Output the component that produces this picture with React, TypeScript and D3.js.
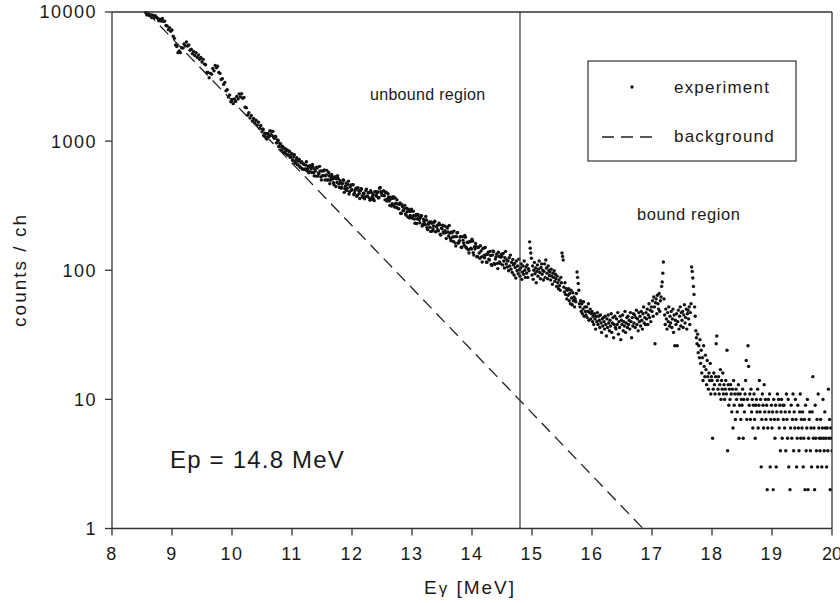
import React from "react";
import * as d3 from "d3";

// ---- data ----
// channel calibration: energy of first channel and channel width (MeV)
const expAStart = 8.56;
const expAStep = 0.02;
const expACounts = [
  9900, 9500, 9800, 9400, 9550, 9050, 9450, 9000, 9350, 9100,
  8950, 8550, 8800, 8500, 8900, 8450, 8500, 7850, 7800, 7300,
  7550, 7100, 7250, 6500, 6250, 5550, 5400, 4850, 5000, 4850,
  5300, 5250, 5650, 5450, 5850, 5450, 5550, 5050, 5150, 4750,
  4950, 4600, 4850, 4450, 4650, 4300, 4450, 4100, 4300, 3950,
  3900, 3400, 3400, 3100, 3350, 3300, 3650, 3500, 3850, 3700,
  3800, 3400, 3350, 3000, 3050, 2750, 2850, 2450, 2500, 2200,
  2280, 2020, 2100, 1950, 2120, 2030, 2220, 2120, 2320, 2200,
  2330, 2150, 2180, 1830, 1810, 1590, 1660, 1510, 1580, 1430,
  1500, 1380, 1450, 1330, 1400, 1260, 1320, 1180, 1230, 1090,
  1140, 1040, 1140, 1090, 1200, 1110, 1190, 1060, 1090, 970,
  1020, 910, 960, 850, 910, 815, 875, 800, 855, 780,
  830, 750, 800, 705, 785, 680, 745, 655, 720, 625,
  694, 605, 658, 608, 692, 611, 569, 645, 609, 659,
  569, 606, 536, 620, 567, 638, 529, 587, 542, 599,
  538, 594, 501, 540, 498, 551, 510, 459, 530, 510,
  540, 466, 494, 432, 470, 498, 428, 473, 432, 490,
  405, 457, 421, 459, 395, 426, 374, 435, 393, 412,
  426, 368, 394, 372, 425, 372, 398, 349, 401, 372,
  357, 405, 381, 398, 363, 432, 405, 380, 411, 378,
  399, 344, 391, 344, 354, 314, 360, 322, 363, 306,
  326, 299, 332, 275, 312, 290, 318, 268, 284, 297,
  254, 286, 260, 286, 249, 263, 230, 270, 247, 256,
  265, 226, 239, 225, 245, 207, 232, 215, 237, 201,
  220, 240, 199, 222, 202, 225, 187, 210, 198, 220,
  195, 216, 198, 222, 177, 198, 181, 201, 163, 182,
  196, 165, 181, 151, 182, 163, 186, 151, 165, 144,
  167, 148, 174, 137, 152, 161, 127, 150, 136, 155,
  127, 147, 130, 150, 116, 133, 122, 140, 111, 131,
  139, 111, 127, 113, 138, 116, 126,
];

// odd channels of the same spectrum between 10.51 and 14.49 MeV
const expAOddStart = 10.51;
const expAOddStep = 0.02;
const expAOddCounts = [
  1240, 1110, 1150, 1050, 1140, 1090, 1200, 1120, 1190, 1080,
  1050, 1080, 970, 1010, 905, 950, 860, 900, 825, 870,
  845, 780, 835, 750, 790, 715, 755, 675, 715, 655,
  700, 635, 680, 612, 668, 603, 652, 590, 640, 580,
  624, 571, 631, 538, 586, 627, 536, 559, 588, 500,
  539, 588, 500, 548, 500, 572, 468, 518, 532, 476,
  515, 445, 478, 514, 438, 474, 441, 500, 401, 449,
  414, 462, 389, 441, 416, 459, 385, 415, 432, 381,
  414, 359, 428, 377, 395, 358, 414, 377, 398, 362,
  413, 355, 386, 346, 406, 374, 406, 366, 438, 394,
  380, 412, 351, 402, 357, 369, 317, 368, 328, 371,
  309, 330, 351, 301, 324, 276, 323, 289, 300, 273,
  303, 259, 286, 266, 297, 253, 266, 231, 270, 249,
  256, 233, 265, 220, 249, 229, 261, 214, 227, 237,
  200, 231, 209, 235, 199, 216, 206, 231, 190, 212,
  223, 194, 202, 176, 212, 184, 194, 169, 195, 167,
  182, 154, 194, 162, 169, 182, 150, 171, 156, 180,
  148, 164, 136, 166, 146, 168, 131, 146, 152, 128,
  151, 124, 141, 116, 148, 125, 132, 115, 138, 120,
  130, 109, 141, 113, 122, 133, 103, 128, 113, 133,
];

const expBStart = 14.5;
const expBStep = 0.01;
const expBCounts = [
  128, 110, 135, 118, 104, 125, 140, 112, 120, 106,
  118, 99, 125, 108, 131, 102, 115, 96, 121, 110,
  92, 113, 105, 87, 118, 99, 108, 94, 122, 101,
  90, 104, 112, 85, 97, 108, 93, 118, 100, 88,
  106, 95, 110, 88, 103, 99, 166, 148, 136, 124,
  92, 108, 85, 100, 115, 94, 104, 80, 98, 110,
  90, 102, 118, 96, 86, 105, 112, 93, 100, 84,
  98, 112, 88, 120, 104, 95, 86, 108, 100, 91,
  97, 84, 102, 90, 78, 95, 88, 99, 82, 93,
  86, 75, 90, 80, 72, 84, 76, 70, 88, 80,
  136, 128, 120, 74, 68, 80, 65, 72, 60, 70,
  64, 72, 58, 66, 55, 70, 61, 54, 67, 58,
  62, 52, 60, 57, 66, 97, 88, 79, 70, 55,
  52, 58, 48, 55, 46, 50, 57, 44, 52, 48,
  45, 52, 43, 48, 55, 41, 47, 50, 42, 46,
  48, 40, 44, 38, 46, 42, 35, 44, 40, 47,
  38, 44, 41, 36, 45, 39, 33, 42, 37, 43,
  40, 35, 44, 38, 31, 42, 36, 45, 39, 34,
  41, 37, 46, 33, 39, 43, 30, 38, 44, 36,
  35, 42, 38, 47, 32, 40, 36, 44, 29, 41,
  38, 45, 34, 40, 37, 48, 33, 39, 43, 36,
  44, 38, 41, 35, 47, 40, 30, 43, 37, 46,
  39, 45, 36, 43, 49, 38, 42, 34, 47, 40,
  44, 37, 48, 41, 35, 46, 52, 39, 43, 38,
  47, 42, 50, 38, 45, 55, 43, 49, 40, 52,
  48, 58, 44, 62, 52, 27, 56, 60, 46, 64,
  55, 50, 66, 48, 58, 62, 75, 81, 95, 116,
  60, 45, 38, 50, 42, 35, 47, 40, 52, 37,
  44, 39, 48, 36, 42, 50, 33, 45, 26, 41,
  38, 46, 26, 40, 49, 35, 44, 52, 37, 47,
  41, 48, 36, 45, 54, 39, 43, 50, 35, 46,
  49, 42, 52, 38, 47, 55, 106, 98, 87, 75,
  65, 52, 44, 34, 30, 27, 32, 23, 26, 21,
  29, 19, 24, 16, 21, 14, 26, 18, 15, 22,
  17, 13, 20, 15, 12, 16, 14, 19, 11, 15,
  14, 5, 12, 16, 13, 11, 15, 27, 31, 14,
  12, 15, 11, 13, 17, 10, 14, 12, 16, 11,
  13, 10, 12, 14, 11, 24, 4, 13, 9, 12,
  10, 13, 11, 8, 12, 6, 14, 9, 11, 7,
  12, 10, 8, 11, 13, 5, 9, 11, 7, 10,
  9, 12, 5, 10, 8, 11, 14, 20, 7, 10,
  26, 18, 9, 11, 7, 12, 8, 10, 6, 9,
  11, 7, 5, 9, 10, 8, 12, 6, 9, 14,
  8, 10, 3, 7, 11, 9, 6, 13, 8, 10,
  7, 9, 2, 6, 10, 8, 11, 3, 7, 9,
  6, 8, 2, 10, 7, 5, 9, 3, 8, 11,
  7, 10, 6, 9, 4, 8, 10, 5, 9, 7,
  9, 6, 8, 4, 11, 7, 5, 10, 3, 8,
  2, 6, 9, 5, 7, 11, 4, 8, 6, 10,
  7, 3, 5, 9, 6, 4, 8, 11, 5, 7,
  6, 8, 3, 5, 7, 2, 9, 4, 6, 10,
  2, 5, 7, 8, 4, 6, 3, 8, 15, 5,
  6, 2, 9, 5, 4, 7, 3, 11, 6, 5,
  4, 7, 5, 3, 6, 10, 5, 4, 8, 6,
  5, 3, 6, 4, 12, 5, 7, 2, 6, 5,
  4,
];

// background fit: straight line on log scale, given by its two end points
const backgroundE = [8.58, 16.85];
const backgroundCounts = [10000, 1];

const xTicks = [8, 9, 10, 11, 12, 13, 14, 15, 16, 17, 18, 19, 20];
const yTicks = [1, 10, 100, 1000, 10000];
const boundaryE = 14.8;

const FONT = "'Liberation Sans', Arial, Helvetica, sans-serif";
const INK = "#1a1a1a";
const AXIS = "#333";

export default function App() {
  const left = 112, right = 832, top = 12, bottom = 528.5;
  const x = d3.scaleLinear().domain([8, 20]).range([left, right]);
  const y = d3.scaleLog().domain([1, 10000]).range([bottom, top]);

  const points: { e: number; c: number }[] = [];
  expACounts.forEach((c, i) => points.push({ e: expAStart + i * expAStep, c }));
  expAOddCounts.forEach((c, i) => points.push({ e: expAOddStart + i * expAOddStep, c }));
  expBCounts.forEach((c, i) => points.push({ e: expBStart + i * expBStep, c }));

  const bgLine = d3
    .line<number>()
    .x((_, i) => x(backgroundE[i]))
    .y((d) => y(d))(backgroundCounts);

  return (
    <svg
      width={840}
      height={603}
      style={{ position: "absolute", left: 0, top: 0, background: "#fff" }}
      fontFamily={FONT}
    >
      <defs>
        <clipPath id="plotClip">
          <rect x={left} y={top - 1} width={right - left} height={bottom - top + 1} />
        </clipPath>
      </defs>
      <rect x={0} y={0} width={840} height={603} fill="#fff" />

      {/* data */}
      <g clipPath="url(#plotClip)">
        {points.map((p, i) => (
          <circle key={i} cx={x(p.e)} cy={y(p.c)} r={1.7} fill="#111" />
        ))}
        <path d={bgLine || ""} fill="none" stroke="#222" strokeWidth={1.3} strokeDasharray="12 7" />
      </g>

      {/* boundary line */}
      <line x1={x(boundaryE)} x2={x(boundaryE)} y1={top} y2={bottom} stroke={AXIS} strokeWidth={1.2} />

      {/* frame */}
      <line x1={left} x2={left} y1={top} y2={bottom} stroke={AXIS} strokeWidth={1.3} />
      <line x1={left} x2={right} y1={bottom} y2={bottom} stroke={AXIS} strokeWidth={1.3} />
      <line x1={left} x2={right} y1={top} y2={top} stroke={AXIS} strokeWidth={1.3} />
      <line x1={right} x2={right} y1={top} y2={bottom} stroke={AXIS} strokeWidth={1.3} />

      {/* y axis */}
      {yTicks.map((t) => (
        <g key={"y" + t}>
          <line x1={left - 7} x2={left} y1={y(t)} y2={y(t)} stroke={AXIS} strokeWidth={1.3} />
          <text
            x={97}
            y={y(t)}
            dy="0.36em"
            textAnchor="end"
            fontSize={18}
            letterSpacing={1.5}
            fill={INK}
          >
            {t}
          </text>
        </g>
      ))}

      {/* x axis */}
      {xTicks.map((t) => (
        <g key={"x" + t}>
          <line x1={x(t)} x2={x(t)} y1={bottom} y2={bottom + 7} stroke={AXIS} strokeWidth={1.3} />
          <text
            x={x(t)}
            y={560}
            textAnchor="middle"
            fontSize={18}
            letterSpacing={t === 20 ? 0 : 1.5}
            fill={INK}
          >
            {t}
          </text>
        </g>
      ))}

      {/* axis titles */}
      <text x={470} y={594} textAnchor="middle" fontSize={19} letterSpacing={2} fill={INK}>
        E<tspan fontSize={17}>γ</tspan> [MeV]
      </text>
      <text
        transform="translate(26,270) rotate(-90)"
        textAnchor="middle"
        fontSize={19}
        letterSpacing={2}
        fill={INK}
      >
        counts / ch
      </text>

      {/* annotations */}
      <text x={370} y={100} fontSize={16} letterSpacing={0.3} fill={INK}>
        unbound region
      </text>
      <text x={637} y={220} fontSize={16.5} letterSpacing={0.6} fill={INK}>
        bound region
      </text>
      <text x={170} y={468} fontSize={24} letterSpacing={1.2} fill={INK}>
        Ep = 14.8 MeV
      </text>

      {/* legend */}
      <rect x={588} y={61} width={208} height={100} fill="#fff" stroke={AXIS} strokeWidth={1.2} />
      <circle cx={632} cy={87} r={1.7} fill="#111" />
      <text x={674} y={93} fontSize={17} letterSpacing={1.2} fill={INK}>
        experiment
      </text>
      <line x1={602} x2={656} y1={137} y2={137} stroke="#222" strokeWidth={1.3} strokeDasharray="12 7" />
      <text x={674} y={142} fontSize={17} letterSpacing={1.2} fill={INK}>
        background
      </text>
    </svg>
  );
}
